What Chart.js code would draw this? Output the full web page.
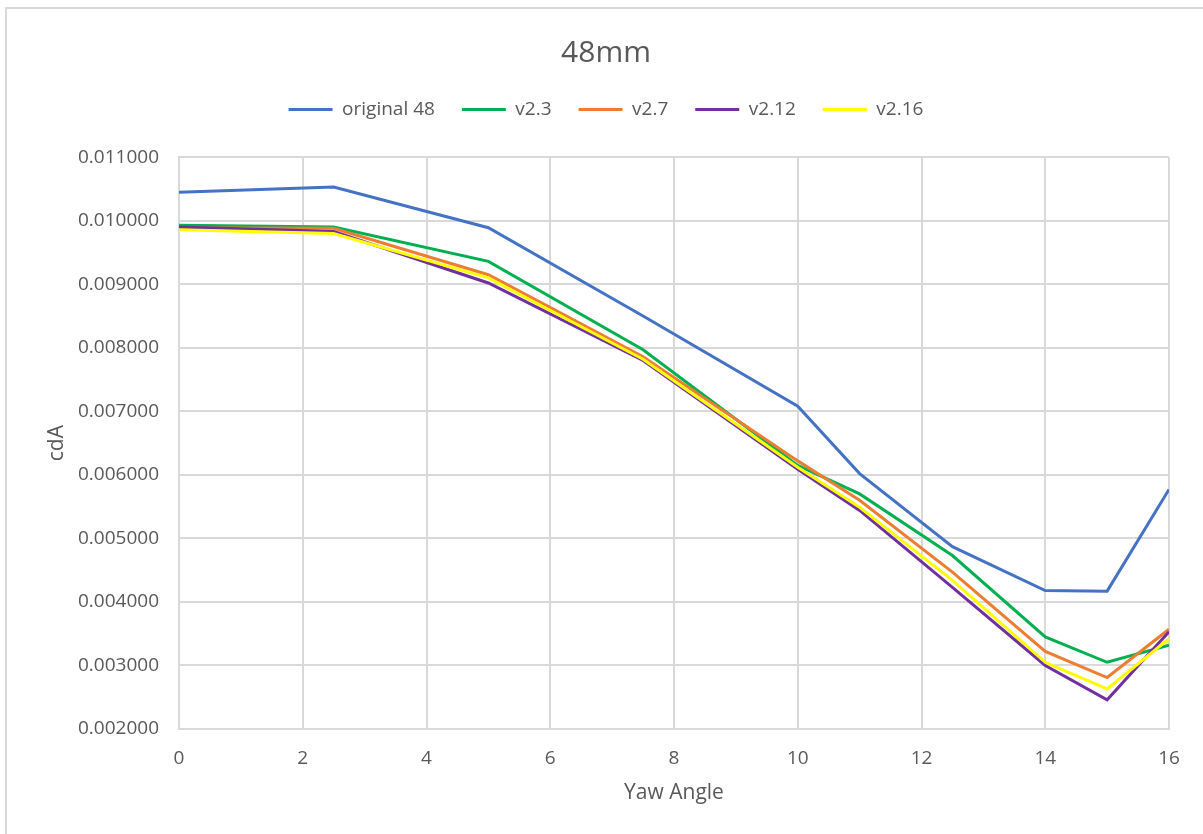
<!DOCTYPE html>
<html lang="en">
<head>
    <meta charset="UTF-8">
    <script src="https://cdn.jsdelivr.net/npm/chart.js"></script>
    <title>48mm</title>
    <style>
        body { margin: 0; background: #fff; overflow: hidden; }
        #frame { position: absolute; left: 5px; top: 7px; width: 1300px; height: 900px;
                 border-left: 2px solid #d9d9d9; border-top: 2px solid #d9d9d9; }
        #grafico { position: absolute; left: 0; top: 0; }
    </style>
</head>
    <body>
        <div id="frame"></div>
        <canvas id="grafico" width="1203" height="834"></canvas>

        <script>
            // yaw angles (x) and cdA per version
            const yawAngles  = [0, 2.5, 5, 7.5, 10, 11, 12.5, 14, 15, 16];
            const original48 = [0.01045, 0.01053, 0.00989, 0.00850, 0.00708, 0.00602, 0.00487, 0.00418, 0.00417, 0.00577];
            const v2_3       = [0.00993, 0.00990, 0.00936, 0.00797, 0.00615, 0.00570, 0.00473, 0.00345, 0.00305, 0.00332];
            const v2_7       = [0.00989, 0.00988, 0.00915, 0.00786, 0.00622, 0.00560, 0.00447, 0.00322, 0.00281, 0.00357];
            const v2_12      = [0.00990, 0.00983, 0.00902, 0.00780, 0.00609, 0.00544, 0.00423, 0.00300, 0.00246, 0.00353];
            const v2_16      = [0.00986, 0.00980, 0.00910, 0.00782, 0.00612, 0.00549, 0.00434, 0.00305, 0.00263, 0.00342];
            const seriesNames = ['original 48', 'v2.3', 'v2.7', 'v2.12', 'v2.16'];
            const yTicks = { min: 0.002, max: 0.011, step: 0.001 };
            const xTicks = { min: 0, max: 16, step: 2 };

            const cores = ['#4472C4', '#00B050', '#ED7D31', '#7030A0', '#FFFF00'];
            const texto = '#595959';
            const grade = '#d9d9d9';
            const fonte = 'Open Sans';

            const series = [original48, v2_3, v2_7, v2_12, v2_16];
            const datasets = series.map((vals, i) => ({
                label: seriesNames[i],
                data: vals.map((v, j) => ({ x: yawAngles[j], y: v })),
                borderColor: cores[i],
                backgroundColor: cores[i],
                borderWidth: 3,
                pointRadius: 0,
                tension: 0,
                order: series.length - i   // last series drawn on top, like Excel
            }));

            const ctx = document.getElementById('grafico').getContext('2d');
            new Chart(ctx, {
                type: 'line',
                data: { datasets: datasets },
                options: {
                    responsive: false,
                    animation: false,
                    layout: { padding: { left: 9, right: 0, top: 0, bottom: 0 } },
                    plugins: {
                        title: {
                            display: true,
                            text: '48mm',
                            color: texto,
                            font: { family: fonte, size: 30, weight: 'normal' },
                            padding: { top: 35, bottom: 2 }
                        },
                        legend: {
                            display: true,
                            labels: {
                                color: texto,
                                font: { family: fonte, size: 19 },
                                boxWidth: 44,
                                boxHeight: 0,
                                padding: 27,
                                sort: (a, b) => a.datasetIndex - b.datasetIndex
                            }
                        },
                        // empty spacer between legend and plot area
                        subtitle: {
                            display: true,
                            text: '',
                            weight: 500,
                            font: { size: 1 },
                            padding: { top: 27, bottom: 0 }
                        },
                        tooltip: { enabled: false }
                    },
                    scales: {
                        x: {
                            type: 'linear',
                            min: xTicks.min,
                            max: xTicks.max,
                            ticks: { stepSize: xTicks.step, color: texto, padding: 18,
                                     font: { family: fonte, size: 19 } },
                            grid: { color: grade, lineWidth: 2, drawTicks: false },
                            border: { color: grade, width: 2 },
                            title: { display: true, text: 'Yaw Angle', color: texto,
                                     font: { family: fonte, size: 21 }, padding: { top: 0, bottom: 28 } },
                            afterFit: s => { s.height = 105; }
                        },
                        y: {
                            min: yTicks.min,
                            max: yTicks.max,
                            ticks: { stepSize: yTicks.step, color: texto, padding: 20,
                                     font: { family: fonte, size: 19 },
                                     callback: v => v.toFixed(6) },
                            grid: { color: grade, lineWidth: 2, drawTicks: false },
                            border: { color: grade, width: 2 },
                            title: { display: true, text: 'cdA', color: texto,
                                     font: { family: fonte, size: 21 }, padding: { top: 35, bottom: 0 } },
                            afterFit: s => { s.width = 170; }
                        },
                        // empty right-hand box that keeps the gap after x = 16
                        gap: {
                            position: 'right',
                            min: 0,
                            max: 1,
                            ticks: { display: false },
                            grid: { display: false, drawTicks: false },
                            border: { display: false },
                            afterFit: s => { s.width = 34; }
                        }
                    }
                }
            });
        </script>
    </body>
</html>
